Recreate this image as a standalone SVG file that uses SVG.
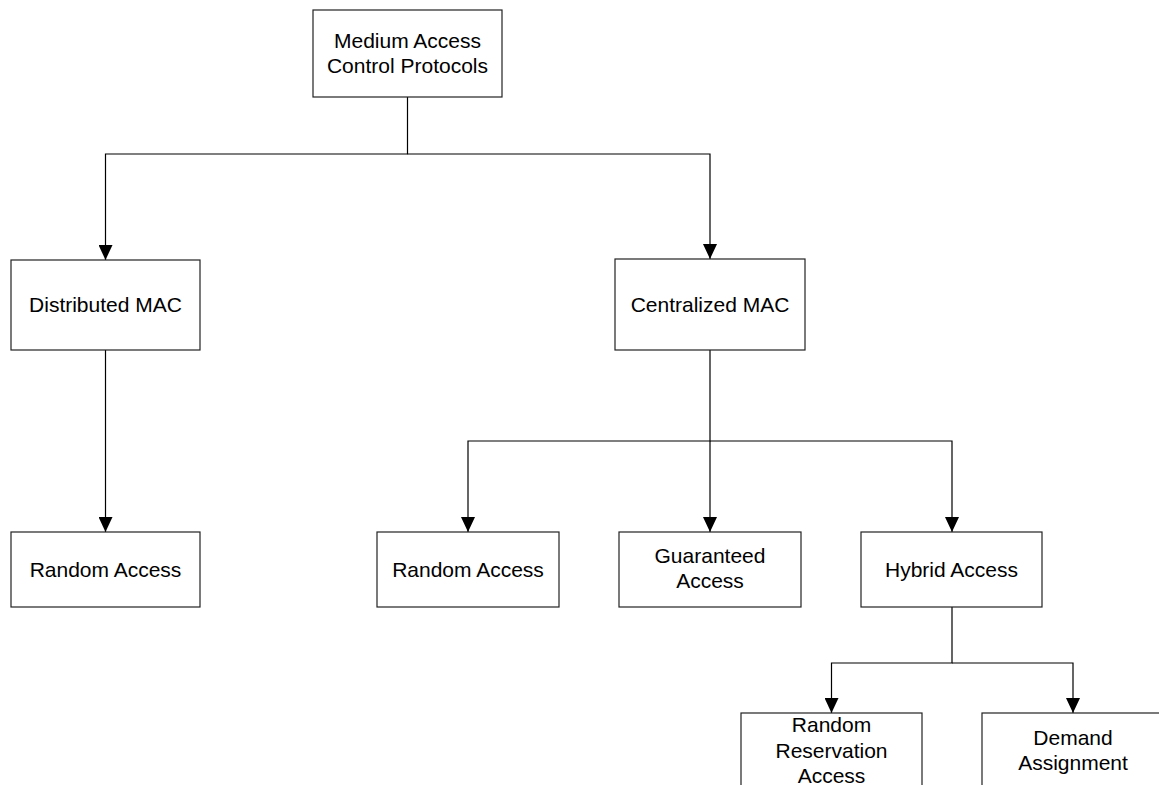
<svg xmlns="http://www.w3.org/2000/svg" width="1159" height="785" viewBox="0 0 1159 785">
  <style>
    .box { fill: #ffffff; stroke: #222222; stroke-width: 1.2; }
    .lbl { font-family: "Liberation Sans", Arial, sans-serif; font-size: 21px; fill: #000000; text-anchor: middle; }
    .edge { fill: none; stroke: #000000; stroke-width: 1.2; }
    .arrow { marker-end: url(#arrow); }
  </style>
  <defs>
    <!-- filled triangular head, tip at the end of the line -->
    <marker id="arrow" markerUnits="userSpaceOnUse" markerWidth="15" markerHeight="14" refX="15" refY="7" orient="auto" viewBox="0 0 15 14">
      <path d="M0 0 L15 7 L0 14 Z" fill="#000000"/>
    </marker>
  </defs>

  <rect width="1159" height="785" fill="#ffffff"/>

  <!-- tree connectors -->
  <g id="connectors">
    <path class="edge arrow" d="M407.5 97 V154 H105.5 V260"/>
    <path class="edge arrow" d="M407.5 154 H710 V259"/>
    <path class="edge arrow" d="M105.5 350 V532"/>
    <path class="edge arrow" d="M710 350 V441 H468 V532"/>
    <path class="edge arrow" d="M710 441 V532"/>
    <path class="edge arrow" d="M710 441 H952 V532"/>
    <path class="edge arrow" d="M952 607 V663 H831.5 V713"/>
    <path class="edge arrow" d="M952 663 H1073 V713"/>
  </g>

  <g id="mac">
    <rect class="box" x="313" y="10" width="189" height="87"/>
    <text class="lbl" x="407.5" y="48">Medium Access</text>
    <text class="lbl" x="407.5" y="73">Control Protocols</text>
  </g>

  <g id="distributed">
    <rect class="box" x="11" y="260" width="189" height="90"/>
    <text class="lbl" x="105.5" y="312">Distributed MAC</text>
  </g>

  <g id="centralized">
    <rect class="box" x="615" y="259" width="190" height="91"/>
    <text class="lbl" x="710" y="312">Centralized MAC</text>
  </g>

  <g id="dist-random">
    <rect class="box" x="11" y="532" width="189" height="75"/>
    <text class="lbl" x="105.5" y="577">Random Access</text>
  </g>

  <g id="cent-random">
    <rect class="box" x="377" y="532" width="182" height="75"/>
    <text class="lbl" x="468" y="577">Random Access</text>
  </g>

  <g id="guaranteed">
    <rect class="box" x="619" y="532" width="182" height="75"/>
    <text class="lbl" x="710" y="563">Guaranteed</text>
    <text class="lbl" x="710" y="588">Access</text>
  </g>

  <g id="hybrid">
    <rect class="box" x="861" y="532" width="181" height="75"/>
    <text class="lbl" x="951.5" y="577">Hybrid Access</text>
  </g>

  <g id="random-reservation">
    <rect class="box" x="741" y="713" width="181" height="90"/>
    <text class="lbl" x="831.5" y="732">Random</text>
    <text class="lbl" x="831.5" y="758">Reservation</text>
    <text class="lbl" x="831.5" y="783">Access</text>
  </g>

  <g id="demand">
    <rect class="box" x="982" y="713" width="182" height="90"/>
    <text class="lbl" x="1073" y="745">Demand</text>
    <text class="lbl" x="1073" y="770">Assignment</text>
  </g>
</svg>
